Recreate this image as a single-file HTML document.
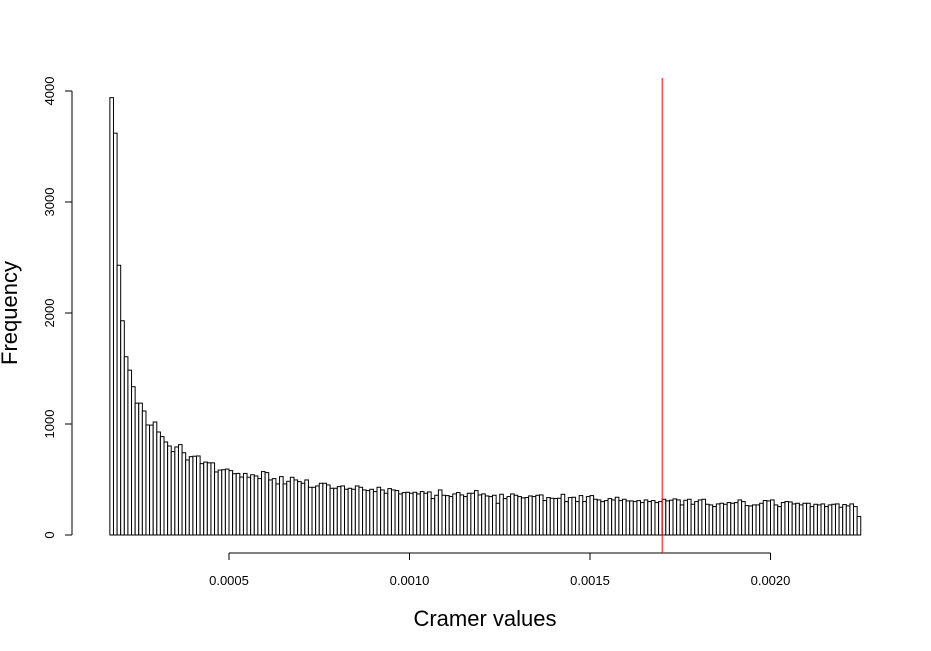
<!DOCTYPE html>
<html><head><meta charset="utf-8"><style>
body{margin:0;background:#fff}
svg{display:block;font-family:"Liberation Sans",sans-serif}
</style></head><body>
<svg id="chart" width="931" height="651">
<g id="bars"></g>
<g id="axes"></g>
<text x="485" y="626" font-size="22" text-anchor="middle">Cramer values</text>
<text transform="translate(17,313) rotate(-90)" font-size="22" text-anchor="middle">Frequency</text>
</svg>
<script>
const binStart = 0.00017;
const binWidth = 0.00001;
const counts = [3940,3620,2430,1930,1606,1485,1336,1188,1188,1117,991,990,1018,928,886,838,802,751,793,814,741,676,706,710,712,643,657,650,650,568,585,588,594,580,552,555,522,555,520,543,532,508,
571,562,496,508,460,526,460,484,520,496,481,466,496,430,430,442,466,466,451,421,421,436,442,412,421,412,442,430,406,400,412,391,430,406,376,418,406,400,370,382,385,376,385,370,391,376,388,328,358,406,358,355,346,370,382,361,346,376,376,400,361,370,352,346,358,286,367,328,346,370,358,346,334,337,352,346,358,361,310,337,331,328,
331,367,301,337,340,301,355,301,346,355,322,316,301,310,328,316,340,310,322,307,307,301,310,292,316,301,310,292,301,322,307,313,325,316,271,313,322,277,301,316,322,277,271,256,280,286,277,292,286,292,316,301,265,262,271,271,286,310,307,316,271,256,292,301,298,280,286,271,286,286,256,277,271,280,256,271,277,280,250,274,262,280,256,166];
const yTicks = [0,1000,2000,3000,4000];
const xTicks = [0.0005,0.0010,0.0015,0.0020];
const xTickLabels = ["0.0005","0.0010","0.0015","0.0020"];
const refValue = 0.0017;

const NS="http://www.w3.org/2000/svg";
const xs = v => 229 + (v-0.0005)*361000;
const ys = v => 535 - v*0.111;
function mk(tag, attrs, parent){const e=document.createElementNS(NS,tag);for(const k in attrs)e.setAttribute(k,attrs[k]);parent.appendChild(e);return e;}
const bars=document.getElementById('bars'), axes=document.getElementById('axes'), svg=document.getElementById('chart');
counts.forEach((c,i)=>{
  const x0=xs(binStart+i*binWidth), x1=xs(binStart+(i+1)*binWidth);
  const r=mk('rect',{x:x0,y:ys(c),width:x1-x0,height:ys(0)-ys(c),fill:'#fff',stroke:'#000','stroke-width':1},bars);
  
  
});
// y axis
let l=mk('line',{x1:72,x2:72,y1:ys(0),y2:ys(4000),stroke:'#000'},axes);


yTicks.forEach(t=>{
  mk('line',{x1:65,x2:72,y1:ys(t),y2:ys(t),stroke:'#000'},axes);
  const tx=mk('text',{transform:`translate(54,${ys(t)}) rotate(-90)`,'font-size':13,'text-anchor':'middle'},axes);
  tx.textContent=t;
  
  
});
// x axis
l=mk('line',{x1:xs(xTicks[0]),x2:xs(xTicks[xTicks.length-1]),y1:553,y2:553,stroke:'#000'},axes);


xTicks.forEach((t,i)=>{
  mk('line',{x1:xs(t),x2:xs(t),y1:553,y2:560,stroke:'#000'},axes);
  const tx=mk('text',{x:xs(t),y:585,'font-size':13,'text-anchor':'middle'},axes);
  tx.textContent=xTickLabels[i];
  
  
});
const ref=mk('line',{x1:xs(refValue),x2:xs(refValue),y1:78,y2:553,stroke:'#ff0000','stroke-width':1},svg);


</script>
</body></html>
